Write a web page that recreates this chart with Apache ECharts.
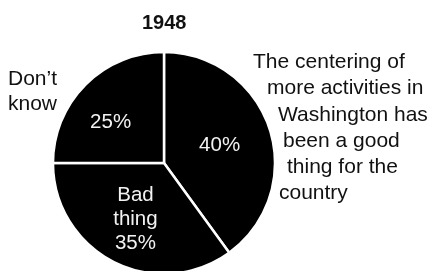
<!DOCTYPE html>
<html>
<head>
    <meta charset="UTF-8">
    <title>1948</title>
    <script src="https://cdn.jsdelivr.net/npm/echarts@6/dist/echarts.min.js"></script>
</head>
<body style="margin:0;background:#ffffff">
    <div id="pie" style="width:431px; height:271px;"></div>
    <script>
        // slices, clockwise from 12 o'clock
        var categories = ['Good thing', 'Bad thing', "Don't know"];
        var values = [40, 35, 25];
        var insideText = ['40%', 'Bad\nthing\n35%', '25%'];

        // outside captions, one entry per printed line
        var goodLines = ['The centering of', 'more activities in', 'Washington has', 'been a good', 'thing for the', 'country'];
        var goodIndent = [253, 267, 278, 283, 287, 279];
        var dkLines = ["Don\u2019t", 'know'];

        // nudges so the inner labels sit where the print has them
        var labelNudge = [[0, 0], [-2, 4], [-12, 1]];

        var chart = echarts.init(document.getElementById('pie'), null, {renderer: 'canvas'});

        var graphics = [];
        for (var i = 0; i < goodLines.length; i++) {
            graphics.push({
                type: 'text', left: goodIndent[i], top: 52 + i * 26.2,
                style: {text: goodLines[i], fill: '#111', font: '21px "Liberation Sans", Arial, sans-serif'}
            });
        }
        for (var j = 0; j < dkLines.length; j++) {
            graphics.push({
                type: 'text', left: 8, top: 69 + j * 25,
                style: {text: dkLines[j], fill: '#111', font: '21px "Liberation Sans", Arial, sans-serif'}
            });
        }

        var option = {
            animation: false,
            title: {
                text: '1948', left: 137, top: 8,
                textStyle: {fontFamily: 'Liberation Sans', fontWeight: 'bold', fontSize: 20, color: '#111'}
            },
            graphic: graphics,
            series: [{
                type: 'pie',
                silent: true,
                center: [164, 163],
                radius: 111,
                startAngle: 90,
                clockwise: true,
                itemStyle: {color: '#000', borderColor: '#fff', borderWidth: 2.5},
                label: {
                    show: true, position: 'inside',
                    fontFamily: 'Liberation Sans', fontSize: 20.5, lineHeight: 24,
                    color: '#f2f2f2', align: 'center',
                    formatter: function (p) { return insideText[p.dataIndex]; }
                },
                labelLayout: function (p) {
                    return {dx: labelNudge[p.dataIndex][0], dy: labelNudge[p.dataIndex][1]};
                },
                data: categories.map(function (c, k) { return {name: c, value: values[k]}; })
            }]
        };
        chart.setOption(option);
    </script>
</body>
</html>
